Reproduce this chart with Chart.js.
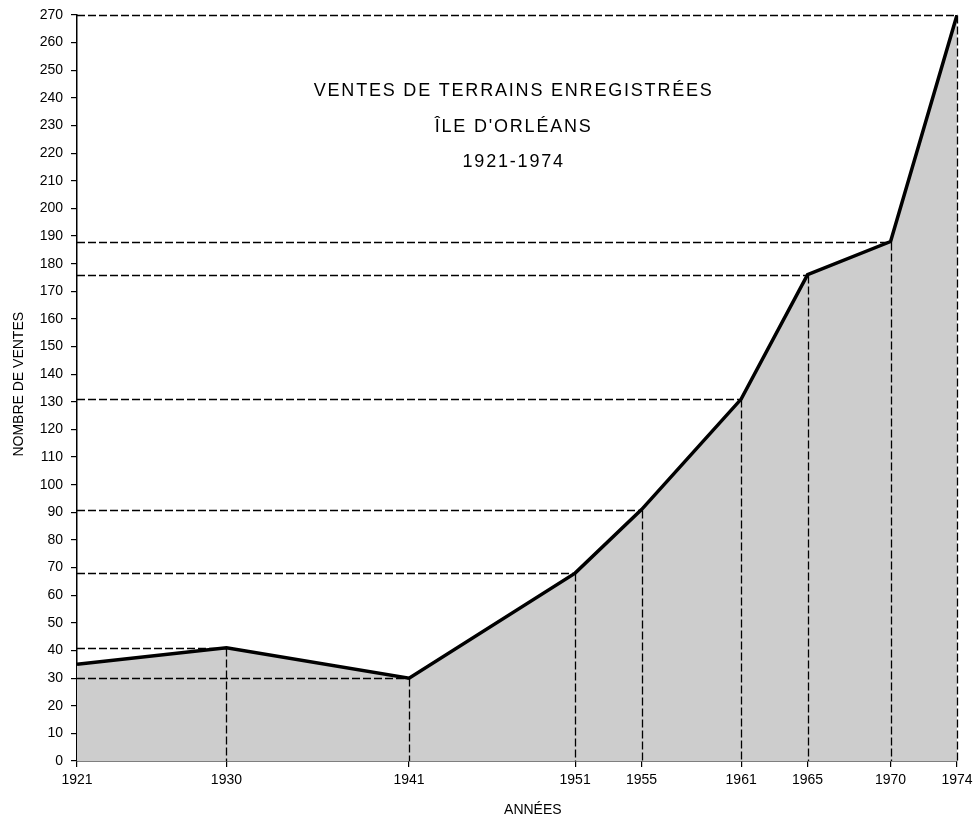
<!DOCTYPE html>
<html><head><meta charset="utf-8">
<script src="https://cdn.jsdelivr.net/npm/chart.js@4/dist/chart.umd.min.js"></script>
<style>html,body{margin:0;padding:0;background:#fff}#wrap{width:979px;height:821px}</style>
</head><body><div id="wrap"><canvas id="c" width="979" height="821"></canvas></div>
<script>
const years = [1921, 1930, 1941, 1951, 1955, 1961, 1965, 1970, 1974];
const sales = [35, 41, 30, 68, 91, 131, 176, 188, 270];
const yTickValues = [0, 10, 20, 30, 40, 50, 60, 70, 80, 90, 100, 110, 120, 130, 140, 150, 160, 170, 180, 190, 200, 210, 220, 230, 240, 250, 260, 270];
const titleLines = ["VENTES DE TERRAINS ENREGISTRÉES", "ÎLE D'ORLÉANS", "1921-1974"];
const yTitle = "NOMBRE DE VENTES";
const xTitle = "ANNÉES";
const FONT = "'Liberation Sans','Arial',sans-serif";

const guides = {
  id: 'guides',
  afterDatasetsDraw(chart) {
    const {ctx, scales: {x, y}} = chart;
    ctx.save();
    ctx.strokeStyle = '#000';
    ctx.lineWidth = 1.3;
    ctx.setLineDash([8, 3]);
    const y0 = y.getPixelForValue(0);
    years.forEach((yr, i) => {
      if (i === 0) return;
      const px = Math.round(x.getPixelForValue(yr)) + 0.5;
      const py = Math.round(y.getPixelForValue(sales[i])) + 0.5;
      ctx.beginPath();
      ctx.moveTo(x.left, py); ctx.lineTo(px, py);
      ctx.stroke();
      ctx.beginPath();
      ctx.moveTo(px, py); ctx.lineTo(px, y0);
      ctx.stroke();
    });
    ctx.restore();
  },
  afterDraw(chart) {
    const {ctx, scales: {x, y}, chartArea: ca} = chart;
    ctx.save();
    ctx.fillStyle = '#000';
    ctx.textAlign = 'center';
    ctx.textBaseline = 'alphabetic';
    ctx.font = "18px " + FONT;
    if ('letterSpacing' in ctx) ctx.letterSpacing = '1.8px';
    const cx = x.getPixelForValue(1947.3);
    titleLines.forEach((t, k) => ctx.fillText(t, cx, y.getPixelForValue(240.6 - k * 12.8)));
    if ('letterSpacing' in ctx) ctx.letterSpacing = '0px';
    ctx.font = "14px " + FONT;
    ctx.textBaseline = 'middle';
    ctx.fillText(xTitle, ca.left + (ca.right - ca.left) * 0.518, chart.height - 11);
    ctx.translate(19, ca.top + (ca.bottom - ca.top) * 0.495);
    ctx.rotate(-Math.PI / 2);
    ctx.fillText(yTitle, 0, 0);
    ctx.restore();
  }
};

new Chart(document.getElementById('c'), {
  type: 'line',
  data: {
    datasets: [{
      data: years.map((yr, i) => ({x: yr, y: sales[i]})),
      borderColor: '#000',
      borderWidth: 3.5,
      backgroundColor: '#cdcdcd',
      fill: 'origin',
      pointRadius: 0,
      tension: 0
    }]
  },
  options: {
    responsive: false,
    animation: false,
    layout: {padding: {top: 14, right: 22, left: 0, bottom: 0}},
    plugins: {legend: {display: false}, tooltip: {enabled: false}},
    scales: {
      x: {
        type: 'linear', min: 1921, max: 1974,
        afterBuildTicks: a => { a.ticks = years.map(v => ({value: v})); },
        afterFit: s => { s.height = 60; },
        border: {display: true, color: '#000', width: 1.5},
        grid: {display: true, drawOnChartArea: false, drawTicks: true, tickLength: 6, color: '#000', lineWidth: 1.2},
        ticks: {color: '#000', font: {family: FONT, size: 14}, padding: 5, maxRotation: 0, autoSkip: false, callback: v => String(v)}
      },
      y: {
        min: 0, max: 270,
        afterBuildTicks: a => { a.ticks = yTickValues.map(v => ({value: v})); },
        afterFit: s => { s.width = 77; },
        border: {display: true, color: '#000', width: 1.5},
        grid: {display: true, drawOnChartArea: false, drawTicks: true, tickLength: 6, color: '#000', lineWidth: 1.2},
        ticks: {color: '#000', font: {family: FONT, size: 14, lineHeight: 1}, padding: 8, autoSkip: false}
      }
    }
  },
  plugins: [guides]
});
</script></body></html>
